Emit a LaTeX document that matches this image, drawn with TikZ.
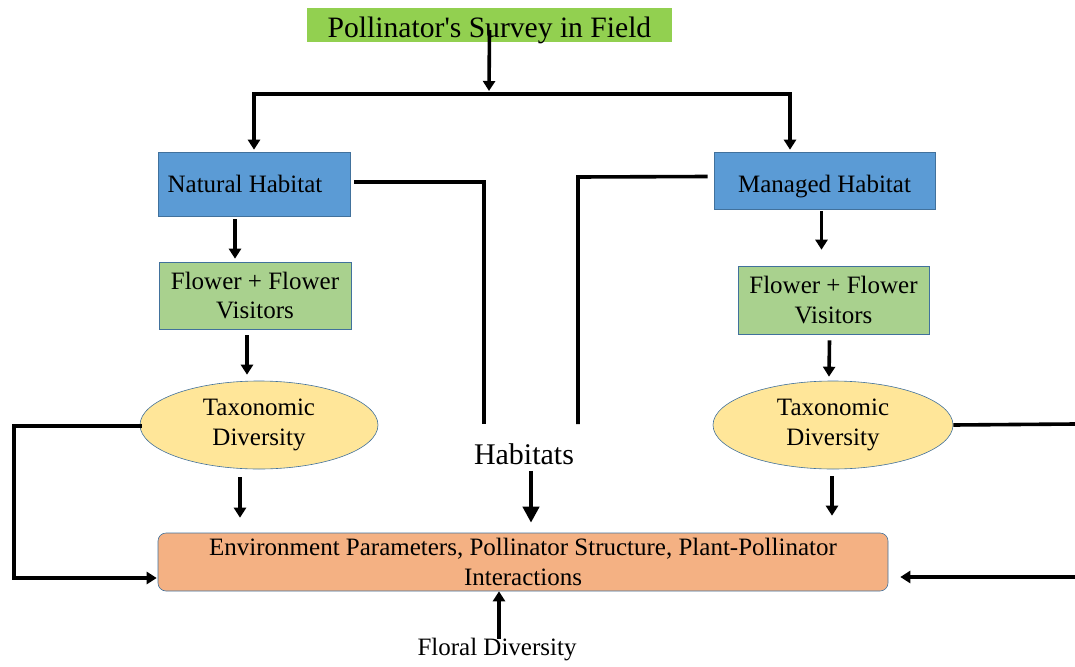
\documentclass[tikz,border=0pt]{standalone}
\usepackage{fontspec}
\setmainfont{Liberation Serif}
\usetikzlibrary{arrows.meta,shapes.geometric,calc}
\definecolor{titlegreen}{HTML}{92D050}
\definecolor{boxblue}{HTML}{5B9BD5}
\definecolor{boxgreen}{HTML}{A9D18E}
\definecolor{ellyellow}{HTML}{FFE699}
\definecolor{envorange}{HTML}{F4B183}
\definecolor{edgeblue}{HTML}{41719C}
\begin{document}
\begin{tikzpicture}[x=1pt,y=-1pt,
  txt/.style={font=\fontsize{25}{29.5}\selectfont, align=center, inner sep=0pt},
  titlebox/.style={rectangle, fill=titlegreen, draw=none, inner sep=0pt,
    font=\fontsize{29.6}{34}\selectfont, minimum width=365pt, minimum height=34pt},
  bluebox/.style={txt, rectangle, fill=boxblue, draw=edgeblue, line width=0.6pt},
  greenbox/.style={txt, rectangle, fill=boxgreen, draw=edgeblue, line width=0.6pt},
  yellowell/.style={txt, ellipse, fill=ellyellow, draw=edgeblue, line width=0.6pt},
  envbox/.style={txt, rectangle, rounded corners=8pt, fill=envorange, draw=edgeblue, line width=0.6pt},
  conn/.style={line width=3.6pt, line join=miter},
  arr/.style={conn, -{Triangle[length=10pt,width=12pt]}},
  bigarr/.style={line width=4.8pt, -{Triangle[length=16pt,width=16pt]}},
]
\useasboundingbox (0,0) rectangle (1075,666);

% nodes
\node[titlebox] (title) at (489.5,25) {\raisebox{-5pt}[\height][\depth]{Pollinator\textquotesingle s Survey in Field}};
\node[bluebox, minimum width=192pt, minimum height=64pt] (nat) at (254,184) {Natural Habitat\hspace{18pt}};
\node[bluebox, minimum width=221pt, minimum height=57pt] (man) at (824.5,180.5) {\raisebox{-6pt}[\height][\depth]{Managed Habitat}};
\node[greenbox, minimum width=192pt, minimum height=67pt] (flL) at (255,295.5) {Flower + Flower\\Visitors};
\node[greenbox, minimum width=191pt, minimum height=68pt] (flR) at (833.5,300) {Flower + Flower\\Visitors};
\node[yellowell, minimum width=238pt, minimum height=88pt] (taxL) at (259,425) {Taxonomic\\Diversity};
\node[yellowell, minimum width=240pt, minimum height=88pt] (taxR) at (833,425) {Taxonomic\\Diversity};
\node[envbox, minimum width=730pt, minimum height=58pt] (env) at (523,562) {Environment Parameters, Pollinator Structure, Plant-Pollinator\\Interactions};
\node[txt, font=\fontsize{30}{34}\selectfont] (hab) at (524,454) {Habitats};
\node[txt] (flo) at (497,650) {Floral Diversity};

% coordinates
\coordinate (split) at (489,94);
\coordinate (brL) at (254,94);
\coordinate (brR) at (790,94);
\coordinate (habL) at (484,182);
\coordinate (habLend) at (484,424);
\coordinate (habR) at (578,177);
\coordinate (habRend) at (578,424);
\coordinate (farL) at (14,426);
\coordinate (farR1) at (1075,424);
\coordinate (farR2) at (1075,577);

% top branching
\draw[arr] ($(title.center)+(0,5)$) -- ($(split)+(0,-3)$);
\draw[conn] ($(brL)+(-1.8,0)$) -- ($(brR)+(1.8,0)$);
\draw[arr] (brL) -- ($(brL |- nat.north)+(0,-2)$);
\draw[arr] (brR) -- ($(brR |- man.north)+(0,-2)$);

% habitat lines
\draw[conn] ($(nat.east)+(4,-2)$) -- (habL) -- (habLend);
\draw[conn] ($(man.west)+(-6,-4)$) -- (habR) -- (habRend);
\draw[bigarr] ($(hab.south)+(7,6)$) -- ($(env.north)+(8,-10)$);

% left column
\draw[arr] ($(nat.south)+(-19,3)$) -- ($(flL.north)+(-20,-3)$);
\draw[arr] ($(flL.south)+(-8,6)$) -- ($(taxL.north)+(-12,-6)$);
\draw[arr] ($(taxL.south)+(-19,8)$) -- ($(env.north -| taxL.south)+(-19,-15)$);

% right column
\draw[arr] ($(man.south)+(-3,2)$) -- ($(flR.north)+(-12,-16)$);
\draw[arr] ($(flR.south)+(-4,6)$) -- ($(taxR.north)+(-4,-4)$);
\draw[arr] ($(taxR.south)+(-1,7)$) -- ($(env.north -| taxR.south)+(-1,-17)$);

% feedback lines
\draw[arr] ($(taxL.west)+(2,1)$) -- (farL) |- ($(env.west)+(-1,16)$);
\draw[conn] (taxR.east) -- (farR1);
\draw[arr] (farR2) -- ($(env.east)+(12,15)$);

% floral diversity
\draw[arr] ($(flo.center)+(2,-11)$) -- ($(env.south)+(-24,0)$);
\end{tikzpicture}
\end{document}
